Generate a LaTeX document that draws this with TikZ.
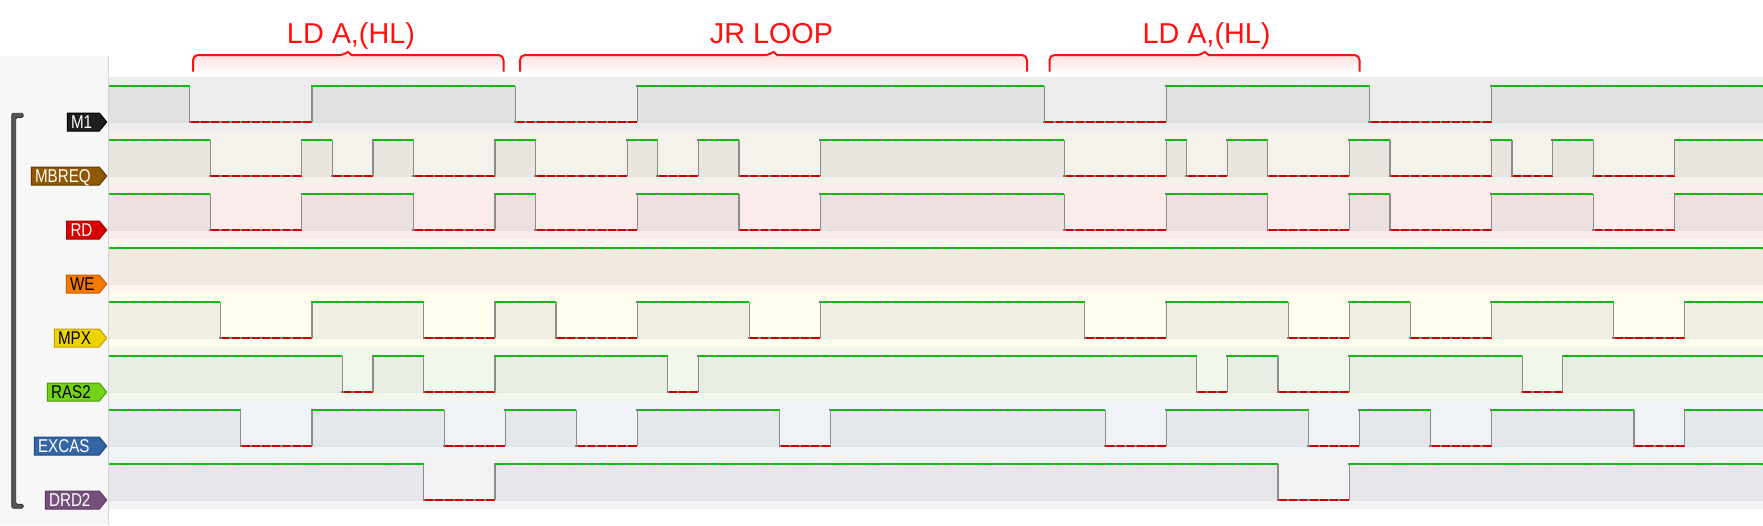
\documentclass[tikz,border=0pt]{standalone}
\usepackage{fontspec}
\setmainfont{Liberation Sans}
\newfontfamily\tagfont[FakeStretch=0.82]{Liberation Sans}
\definecolor{panel}{HTML}{F7F7F7}
\definecolor{sepc}{HTML}{D4D4D4}
\definecolor{hic}{HTML}{00C400}
\definecolor{loc}{HTML}{D00000}
\definecolor{edgec}{HTML}{8C8C8C}
\definecolor{dotc}{HTML}{7A7A7A}
\definecolor{titlec}{HTML}{FF1010}
\definecolor{brk}{HTML}{555753}
\definecolor{brkd}{HTML}{2E3436}
% bands
\definecolor{bM}{HTML}{EDEDED}\definecolor{fM}{HTML}{E1E1E1}
\definecolor{bB}{HTML}{F5F1EB}\definecolor{fB}{HTML}{E9E6E0}
\definecolor{bR}{HTML}{FBEBEA}\definecolor{fR}{HTML}{EDE0E0}
\definecolor{bW}{HTML}{FDF5EE}\definecolor{fW}{HTML}{F1E8E0}
\definecolor{bX}{HTML}{FEFDEE}\definecolor{fX}{HTML}{F1EFE2}
\definecolor{bS}{HTML}{F3F8ED}\definecolor{fS}{HTML}{E8EEE4}
\definecolor{bE}{HTML}{EFF2F6}\definecolor{fE}{HTML}{E4E7EC}
\definecolor{bD}{HTML}{F3F2F5}\definecolor{fD}{HTML}{E8E6EA}
% tags
\definecolor{tM}{HTML}{1E1E1E}\definecolor{dM}{HTML}{000000}
\definecolor{tB}{HTML}{8F5902}\definecolor{dB}{HTML}{5C3A02}
\definecolor{tR}{HTML}{D90000}\definecolor{dR}{HTML}{A40000}
\definecolor{tW}{HTML}{F57900}\definecolor{dW}{HTML}{CE5C00}
\definecolor{tX}{HTML}{EDD400}\definecolor{dX}{HTML}{C4A000}
\definecolor{tS}{HTML}{73D216}\definecolor{dS}{HTML}{4E9A06}
\definecolor{tE}{HTML}{3465A4}\definecolor{dE}{HTML}{204A87}
\definecolor{tD}{HTML}{75507B}\definecolor{dD}{HTML}{5C3566}

\tikzset{
  hiline/.style={hic, line width=1.2pt},
  loline/.style={loc, line width=1.2pt},
  edgeline/.style={edgec, line width=1.2pt},
  tagtext/.style={inner sep=0pt, font=\tagfont\fontsize{18.5}{18.5}\selectfont},
  titletext/.style={inner sep=0pt, anchor=base, text=titlec, font=\fontsize{28.8}{30}\selectfont},
  bracec/.style={titlec, line width=2pt},
}

\newcommand{\wave}[4]{%
  \fill[#2] (108.5,#1) rectangle (1763,#1+54);
  \foreach \lv/\a/\b in {#4}{%
    \ifnum\lv=1\relax
      \fill[#3] ({108.5+10.17*\a},#1+9.3) rectangle ({108.5+10.17*\b},#1+45.3);
    \fi
  }%
  \draw[black, opacity=0.06, line width=1pt] (108.5,#1+45.3) -- (1763,#1+45.3);
  \foreach \lv/\a/\b in {#4}{%
    \pgfmathsetmacro\yy{#1+45.3-36*\lv}%
    \ifnum\a>0\relax
      \draw[edgeline] ({108.5+10.17*\a},#1+9.3) -- ({108.5+10.17*\a},#1+45.3);
    \fi
    \ifnum\lv=1\relax
      \draw[hiline] ({108.5+10.17*\a},\yy) -- ({108.5+10.17*\b},\yy);
    \else
      \draw[loline] ({108.5+10.17*\a},\yy) -- ({108.5+10.17*\b},\yy);
    \fi
    \pgfmathtruncatemacro\bb{\b-1}%
    \foreach \n in {\a,...,\bb}{%
      \fill[dotc] ({108.5+10.17*\n-1.2},\yy-1) rectangle ++(2.4,2);
    }%
  }%
}

\newcommand{\sigtag}[7]{%
  \filldraw[fill=#4, draw=#5, line width=1pt] (#2,#3-9) -- (99.3,#3-9) -- (106.7,#3) -- (99.3,#3+9) -- (#2,#3+9) -- cycle;
  \node[tagtext, text=#6, anchor=base west] (#1) at (#2+3.6,#3+6.6) {#7};
}

\newcommand{\topbrace}[4]{%
  \shade[top color=red!12, bottom color=white] (#2+1,56) rectangle (#3-1,73);
  \draw[bracec, rounded corners=5pt] (#2,71.7) |- (#4-3.5,55) [sharp corners] -- (#4,51.8) -- (#4+3.5,55) [rounded corners=5pt] -| (#3,71.7);
  \coordinate (#1) at (#4,51.8);
}

\begin{document}
\begin{tikzpicture}[x=1pt,y=-1pt]
\useasboundingbox (0,0) rectangle (1763,525);
\fill[white] (0,0) rectangle (1763,525);
\fill[panel] (0,56) rectangle (108.5,525);

\begin{scope}
\clip (108.5,0) rectangle (1763,525);
\wave{76.7}{bM}{fM}{1/0/8, 0/8/20, 1/20/40, 0/40/52, 1/52/92, 0/92/104, 1/104/124, 0/124/136, 1/136/163}
\wave{130.7}{bB}{fB}{1/0/10, 0/10/19, 1/19/22, 0/22/26, 1/26/30, 0/30/38, 1/38/42, 0/42/51, 1/51/54, 0/54/58, 1/58/62, 0/62/70, 1/70/94, 0/94/104, 1/104/106, 0/106/110, 1/110/114, 0/114/122, 1/122/126, 0/126/136, 1/136/138, 0/138/142, 1/142/146, 0/146/154, 1/154/163}
\wave{184.7}{bR}{fR}{1/0/10, 0/10/19, 1/19/30, 0/30/38, 1/38/42, 0/42/52, 1/52/62, 0/62/70, 1/70/94, 0/94/104, 1/104/114, 0/114/122, 1/122/126, 0/126/136, 1/136/146, 0/146/154, 1/154/163}
\wave{238.7}{bW}{fW}{1/0/163}
\wave{292.7}{bX}{fX}{1/0/11, 0/11/20, 1/20/31, 0/31/38, 1/38/44, 0/44/52, 1/52/63, 0/63/70, 1/70/96, 0/96/104, 1/104/116, 0/116/122, 1/122/128, 0/128/136, 1/136/148, 0/148/155, 1/155/163}
\wave{346.7}{bS}{fS}{1/0/23, 0/23/26, 1/26/31, 0/31/38, 1/38/55, 0/55/58, 1/58/107, 0/107/110, 1/110/115, 0/115/122, 1/122/139, 0/139/143, 1/143/163}
\wave{400.7}{bE}{fE}{1/0/13, 0/13/20, 1/20/33, 0/33/39, 1/39/46, 0/46/52, 1/52/66, 0/66/71, 1/71/98, 0/98/104, 1/104/118, 0/118/123, 1/123/130, 0/130/136, 1/136/150, 0/150/155, 1/155/163}
\wave{454.7}{bD}{fD}{1/0/31, 0/31/38, 1/38/115, 0/115/122, 1/122/163}
\end{scope}

\draw[sepc, line width=1pt] (108.5,56) -- (108.5,525);

% signal name tags
\sigtag{m1}{67.3}{122}{tM}{dM}{white}{M1}
\sigtag{mbreq}{31.3}{176}{tB}{dB}{white}{MBREQ}
\sigtag{rd}{66.7}{230}{tR}{dR}{white}{RD}
\sigtag{we}{66.3}{284}{tW}{dW}{black}{WE}
\sigtag{mpx}{54.3}{338}{tX}{dX}{black}{MPX}
\sigtag{ras}{47.3}{392}{tS}{dS}{black}{RAS2}
\sigtag{excas}{34.3}{446}{tE}{dE}{white}{EXCAS}
\sigtag{drd}{45.3}{500}{tD}{dD}{white}{DRD2}

% group bracket
\filldraw[fill=brk, draw=brkd, line width=0.8pt, rounded corners=1.5pt] (11.7,113.3) -- (23.3,113.3) -- (23.3,117.5) -- (15.7,117.5) -- (15.7,504.2) -- (23.3,504.2) -- (23.3,508.3) -- (11.7,508.3) -- cycle;

% instruction braces
\topbrace{b1}{193}{503.5}{348}
\topbrace{b2}{520}{1027}{773.5}
\topbrace{b3}{1049.5}{1359.5}{1205}
\node[titletext] (t1) at (351,43.3) {LD A,(HL)};
\node[titletext] (t2) at (771.5,43.3) {JR LOOP};
\node[titletext] (t3) at (1206.5,43.3) {LD A,(HL)};
\end{tikzpicture}
\end{document}
